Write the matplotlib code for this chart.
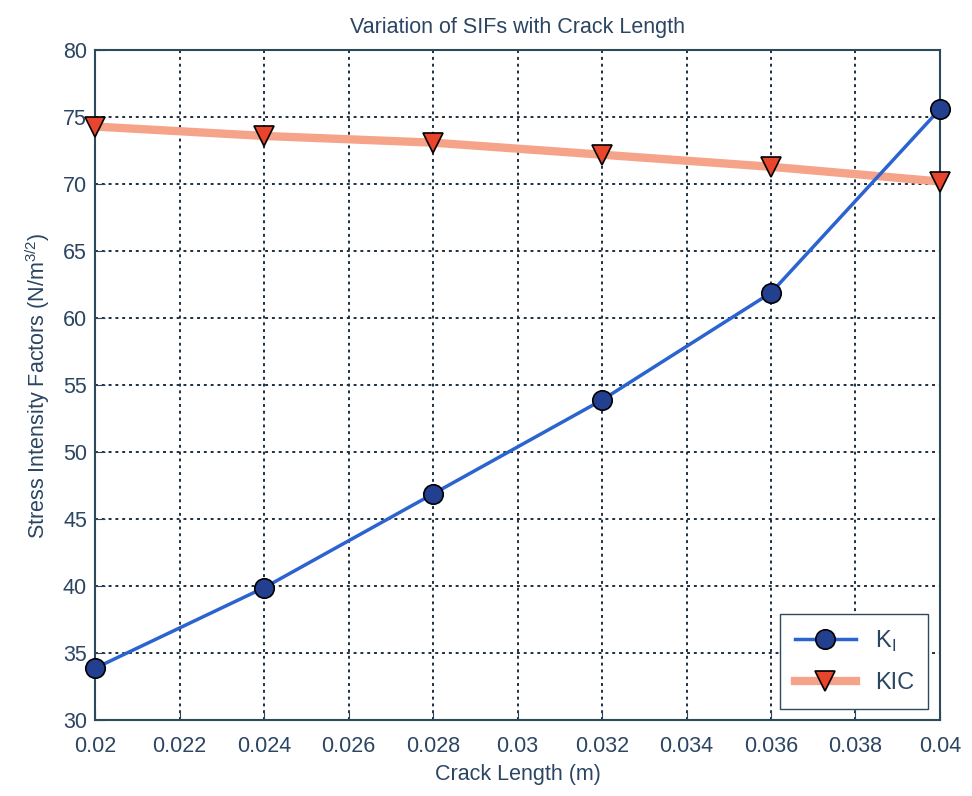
import numpy as np
import matplotlib.pyplot as plt

# *
# data
# *
crack_length = [0.020, 0.024, 0.028, 0.032, 0.036, 0.040]
ki_values    = [33.9, 39.9, 46.9, 53.9, 61.9, 75.6]
kic_values   = [74.3, 73.6, 73.1, 72.2, 71.3, 70.2]
x_ticks      = [0.02, 0.022, 0.024, 0.026, 0.028, 0.03, 0.032, 0.034, 0.036, 0.038, 0.04]
x_ticklabels = ["0.02", "0.022", "0.024", "0.026", "0.028", "0.03", "0.032", "0.034", "0.036", "0.038", "0.04"]
y_ticks      = [30, 35, 40, 45, 50, 55, 60, 65, 70, 75, 80]

txt_col = "#2b4562"
plt.rcParams['font.family'] = ['Liberation Sans', 'DejaVu Sans']

fig = plt.figure(figsize=(9.72, 7.96), dpi=100)
ax = fig.add_axes([0.098, 0.095, 0.869, 0.842])

ax.plot(crack_length, ki_values, color="#2b63d0", lw=2.5, marker="o", markersize=14,
        markerfacecolor="#233f8f", markeredgecolor="black", markeredgewidth=1.2,
        label="K$_\\mathregular{I}$", zorder=4, clip_on=False)
ax.plot(crack_length, kic_values, color="#f5a489", lw=6, marker="v", markersize=15,
        markerfacecolor="#e8452c", markeredgecolor="black", markeredgewidth=1.2,
        label="KIC", zorder=3, clip_on=False)

ax.set_xlim(0.02, 0.04)
ax.set_ylim(30, 80)
ax.set_xticks(x_ticks)
ax.set_xticklabels(x_ticklabels)
ax.set_yticks(y_ticks)
ax.grid(True, color="#1d2f3f", linestyle=(0, (1.5, 2)), lw=1.4)
ax.tick_params(direction="in", length=7, colors=txt_col, labelsize=15.5)
ax.tick_params(axis="x", pad=11)
ax.tick_params(axis="y", pad=6)
for s in ax.spines.values():
    s.set_color("#2b4a5a")
    s.set_linewidth(1.5)

ax.set_title("Variation of SIFs with Crack Length", fontsize=15.5, color=txt_col, pad=12)
ax.set_xlabel("Crack Length (m)", fontsize=15.5, color=txt_col, labelpad=5)
ax.set_ylabel("Stress Intensity Factors (N/m$^{\\mathregular{3/2}}$)", fontsize=15.5, color=txt_col, labelpad=8)

leg = ax.legend(loc="lower right", fontsize=17, handlelength=2.6, fancybox=False, framealpha=1,
                edgecolor="#2b4a5a", borderpad=0.6, labelspacing=0.8)
for t in leg.get_texts():
    t.set_color(txt_col)

plt.savefig("out.png", dpi=100)
